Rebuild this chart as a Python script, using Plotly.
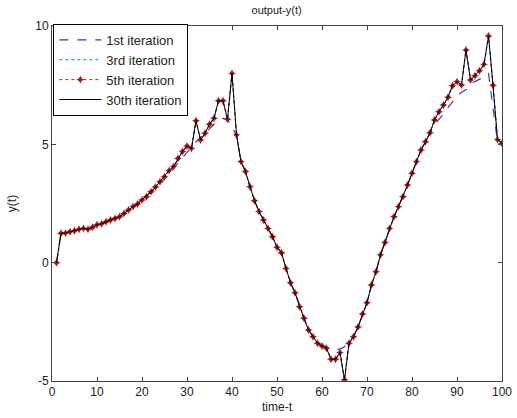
import plotly.graph_objects as go

t = list(range(1, 101))

iter5 = [0.0, 1.24, 1.25, 1.31, 1.35, 1.41, 1.45, 1.41, 1.5, 1.6,
         1.64, 1.73, 1.8, 1.87, 1.94, 2.08, 2.23, 2.37, 2.48, 2.65,
         2.79, 3.0, 3.2, 3.42, 3.63, 3.89, 4.06, 4.4, 4.7, 4.93,
         4.83, 6.0, 5.18, 5.47, 5.85, 6.1, 6.84, 6.84, 6.06, 8.0,
         5.4, 4.27, 3.85, 3.21, 2.62, 2.16, 1.8, 1.45, 1.1, 0.65,
         0.42, -0.24, -0.85, -1.27, -1.86, -2.35, -2.84, -3.13, -3.4, -3.52,
         -3.62, -4.08, -4.08, -3.8, -4.95, -3.4, -3.13, -2.72, -2.17, -1.69,
         -0.94, -0.38, 0.33, 0.85, 1.45, 1.94, 2.37, 2.79, 3.28, 3.78,
         4.27, 4.76, 5.11, 5.49, 6.03, 6.38, 6.66, 6.99, 7.48, 7.65,
         7.51, 8.99, 7.72, 7.9, 8.11, 8.38, 9.58, 7.5, 5.2, 5.04]

iter1 = [0.0, 1.24, 1.25, 1.31, 1.35, 1.41, 1.45, 1.41, 1.5, 1.6,
         1.64, 1.73, 1.8, 1.87, 1.94, 2.08, 2.23, 2.37, 2.48, 2.65,
         2.79, 3.0, 3.15, 3.35, 3.55, 3.8, 3.98, 4.22, 4.45, 4.68,
         4.9, 5.1, 5.28, 5.48, 5.68, 5.85, 6.0, 6.1, 6.05, 5.75,
         5.35, 4.27, 3.85, 3.21, 2.62, 2.16, 1.8, 1.45, 1.1, 0.65,
         0.42, -0.24, -0.85, -1.27, -1.86, -2.35, -2.84, -3.13, -3.4, -3.5,
         -3.55, -3.65, -3.65, -3.65, -3.55, -3.35, -3.13, -2.72, -2.17, -1.69,
         -0.94, -0.38, 0.33, 0.85, 1.45, 1.94, 2.37, 2.79, 3.28, 3.78,
         4.27, 4.76, 5.11, 5.45, 5.85, 6.05, 6.3, 6.55, 6.85, 7.05,
         7.2, 7.3, 7.55, 7.65, 7.72, 7.85, 8.0, 6.6, 5.1, 4.95]

iter3 = list(iter5)
iter30 = list(iter5)

series_names = ["1st iteration", "3rd iteration", "5th iteration", "30th iteration"]
x_ticks = [0, 10, 20, 30, 40, 50, 60, 70, 80, 90, 100]
y_ticks = [-5, 0, 5, 10]
y_tick_text = ["-5", "0", "5", "10"]

fig = go.Figure()
fig.add_trace(go.Scatter(x=t, y=iter1, mode="lines", name=series_names[0],
                         line=dict(color="#3b3ba8", width=1.2, dash="dash")))
fig.add_trace(go.Scatter(x=t, y=iter3, mode="lines", name=series_names[1],
                         line=dict(color="#26b0a6", width=1.2, dash="dot")))
fig.add_trace(go.Scatter(x=t, y=iter5, mode="lines+markers", name=series_names[2],
                         line=dict(color="#c02020", width=1, dash="dot"),
                         marker=dict(symbol="star-diamond", size=6, color="#a81818")))
fig.add_trace(go.Scatter(x=t, y=iter30, mode="lines", name=series_names[3],
                         line=dict(color="#000000", width=1)))

font_family = "Arial, Liberation Sans, sans-serif"
fig.update_layout(
    width=517, height=418,
    margin=dict(l=52, r=15, t=26, b=37, autoexpand=False),
    paper_bgcolor="white", plot_bgcolor="white",
    font=dict(family=font_family, size=12, color="#222"),
    title=dict(text="output-y(t)", x=0.535, xanchor="center", y=0.985, yanchor="top",
               font=dict(size=11, color="#222")),
    showlegend=True,
    legend=dict(x=0.003, y=1.006, xanchor="left", yanchor="top",
                bgcolor="white", bordercolor="black", borderwidth=1,
                font=dict(size=13, color="#222"), tracegroupgap=0,
                itemwidth=42),
)
fig.update_xaxes(range=[0, 100], tickvals=x_ticks, ticks="inside", ticklen=4,
                 tickcolor="#444", showline=True, linecolor="#444", linewidth=1,
                 mirror="ticks", showgrid=False, zeroline=False, automargin=False,
                 title=dict(text="time-t", standoff=4, font=dict(size=12)),
                 tickfont=dict(size=12, color="#222"))
fig.update_yaxes(range=[-5, 10], tickvals=y_ticks, ticktext=y_tick_text,
                 ticks="inside", ticklen=4,
                 tickcolor="#444", showline=True, linecolor="#444", linewidth=1,
                 mirror="ticks", showgrid=False, zeroline=False, automargin=False,
                 title=dict(text="y(t)", standoff=16, font=dict(size=12)),
                 tickfont=dict(size=12, color="#222"))

fig.write_html("out.html", config={"displayModeBar": False},
               post_script="document.body.style.margin='0';document.body.style.overflow='hidden';")
